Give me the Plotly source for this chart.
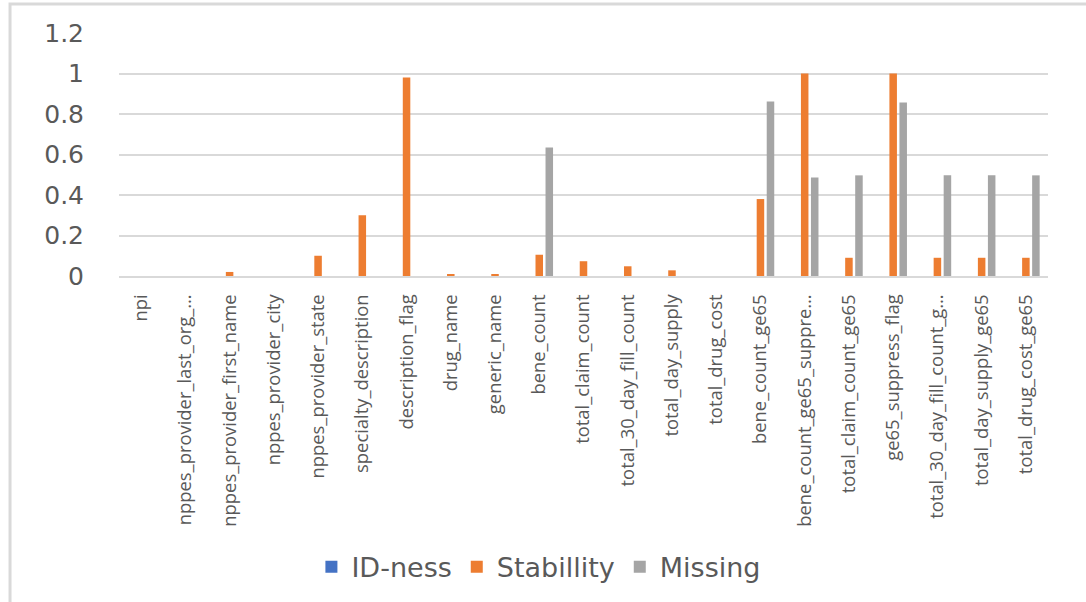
import plotly.graph_objects as go

# Column names and the labels shown under the axis (long names are truncated)
categories = [
    "npi", "nppes_provider_last_org_name", "nppes_provider_first_name",
    "nppes_provider_city", "nppes_provider_state", "specialty_description",
    "description_flag", "drug_name", "generic_name", "bene_count",
    "total_claim_count", "total_30_day_fill_count", "total_day_supply",
    "total_drug_cost", "bene_count_ge65", "bene_count_ge65_suppress_flag",
    "total_claim_count_ge65", "ge65_suppress_flag",
    "total_30_day_fill_count_ge65", "total_day_supply_ge65",
    "total_drug_cost_ge65",
]
tick_labels = [
    "npi", "nppes_provider_last_org_…", "nppes_provider_first_name",
    "nppes_provider_city", "nppes_provider_state", "specialty_description",
    "description_flag", "drug_name", "generic_name", "bene_count",
    "total_claim_count", "total_30_day_fill_count", "total_day_supply",
    "total_drug_cost", "bene_count_ge65", "bene_count_ge65_suppre…",
    "total_claim_count_ge65", "ge65_suppress_flag",
    "total_30_day_fill_count_g…", "total_day_supply_ge65",
    "total_drug_cost_ge65",
]

id_ness = [0] * 21
stability = [0, 0, 0.02, 0, 0.10, 0.30, 0.98, 0.01, 0.01, 0.105,
             0.073, 0.048, 0.028, 0, 0.38, 1.0, 0.09, 1.0, 0.09, 0.09, 0.09]
missing = [0, 0, 0, 0, 0, 0, 0, 0, 0, 0.635,
           0, 0, 0, 0, 0.862, 0.487, 0.497, 0.857, 0.497, 0.497, 0.497]

y_ticks = [0, 0.2, 0.4, 0.6, 0.8, 1, 1.2]
y_tick_text = ["0", "0.2", "0.4", "0.6", "0.8", "1", "1.2"]

TEXT = "#595959"
GRID = "#d9d9d9"

fig = go.Figure()
for name, vals, color in [
    ("ID-ness", id_ness, "#4472C4"),
    ("Stabillity", stability, "#ED7D31"),
    ("Missing", missing, "#A5A5A5"),
]:
    fig.add_trace(go.Bar(x=categories, y=vals, name=name,
                         marker=dict(color=color, line=dict(width=0))))

fig.update_layout(
    width=1086, height=602,
    margin=dict(l=119, r=38, t=33, b=325),
    paper_bgcolor="white", plot_bgcolor="white",
    barmode="group", bargap=0.32, bargroupgap=0.25,
    font=dict(family="DejaVu Sans", color=TEXT),
    legend=dict(orientation="h", x=0.452, xanchor="center",
                y=-1.189, yanchor="middle",
                font=dict(family="DejaVu Sans", size=27, color=TEXT),
                itemwidth=30, traceorder="normal"),
    xaxis=dict(
        tickmode="array", tickvals=categories, ticktext=tick_labels,
        tickangle=-90, tickfont=dict(family="Open Sans", size=18.4, color=TEXT),
        showgrid=False, showline=True, linecolor=GRID, linewidth=2,
        ticks="", ticklabelstandoff=9, fixedrange=True,
    ),
    yaxis=dict(
        range=[0, 1.2], tickmode="array", tickvals=y_ticks, ticktext=y_tick_text,
        tickfont=dict(family="DejaVu Sans", size=25, color=TEXT),
        showgrid=True, gridcolor=GRID, gridwidth=2, zeroline=False,
        showline=False, ticks="", ticklabelstandoff=34, fixedrange=True,
    ),
    shapes=[
        dict(type="rect", xref="paper", yref="paper",
             x0=-0.1173, x1=1.2, y0=-1.5, y1=1.1189,
             line=dict(color=GRID, width=3), fillcolor="rgba(0,0,0,0)",
             layer="below"),
    ],
)

fig.write_html("out.html")
